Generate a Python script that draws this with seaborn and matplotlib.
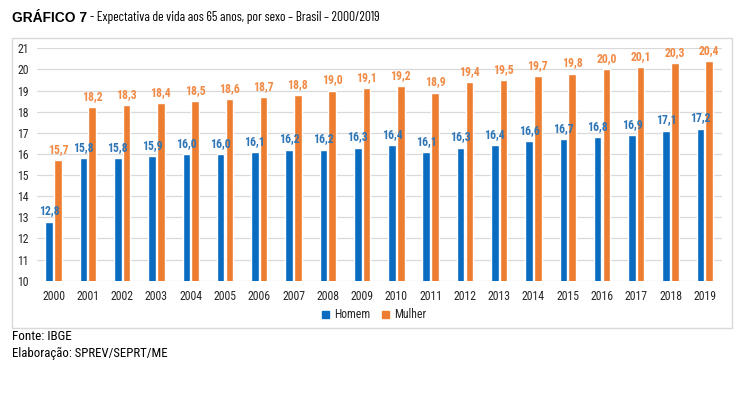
import matplotlib
matplotlib.use("Agg")
import matplotlib.pyplot as plt
import seaborn as sns
import pandas as pd
from matplotlib.patches import Rectangle

years = [str(y) for y in range(2000, 2020)]
homem = [12.8, 15.8, 15.8, 15.9, 16.0, 16.0, 16.1, 16.2, 16.2, 16.3,
         16.4, 16.1, 16.3, 16.4, 16.6, 16.7, 16.8, 16.9, 17.1, 17.2]
mulher = [15.7, 18.2, 18.3, 18.4, 18.5, 18.6, 18.7, 18.8, 19.0, 19.1,
          19.2, 18.9, 19.4, 19.5, 19.7, 19.8, 20.0, 20.1, 20.3, 20.4]
series = ["Homem", "Mulher"]
yticks = list(range(10, 22))

FAM = ["Roboto Condensed", "Liberation Sans", "DejaVu Sans"]
sns.set_theme(style="white")
plt.rcParams["font.family"] = FAM

df = pd.DataFrame({
    "Ano": years * 2,
    "Valor": homem + mulher,
    "Sexo": [series[0]] * len(years) + [series[1]] * len(years),
})

colors = {"Homem": "#0A6CC0", "Mulher": "#ED7D31"}
label_colors = {"Homem": "#2E75B6", "Mulher": "#F08A45"}

fig = plt.figure(figsize=(7.43, 3.95), dpi=100)
ax = fig.add_axes([36.5 / 743, 1 - 280.7 / 395, (722 - 36.5) / 743, (280.7 - 48.3) / 395])

sns.barplot(data=df, x="Ano", y="Valor", hue="Sexo", palette=colors,
            width=0.51, gap=0.13, ax=ax, saturation=1, legend=False)

ax.set_ylim(10, 21)
ax.set_yticks(yticks)
ax.set_yticklabels([str(t) for t in yticks], fontsize=8.5, color="#262626")
ax.set_xlim(-0.5, len(years) - 0.5)
ax.set_xlabel("")
ax.set_ylabel("")
ax.tick_params(axis="x", labelsize=8.5, colors="#262626", length=0, pad=7)
ax.tick_params(axis="y", length=0, pad=5.5)
ax.grid(axis="y", color="#D9D9D9", linewidth=0.9)
ax.set_axisbelow(True)
for s in ax.spines.values():
    s.set_visible(False)

for cont, name, vals in zip(ax.containers, series, [homem, mulher]):
    ax.bar_label(cont, labels=[f"{v:.1f}".replace(".", ",") for v in vals],
                 padding=3, fontsize=8.5, fontweight="bold", color=label_colors[name])

handles = [Rectangle((0, 0), 1, 1, color=colors[s]) for s in series]
fig.legend(handles, series, loc="center", bbox_to_anchor=(374 / 743, 1 - 315 / 395),
           ncol=2, frameon=False, fontsize=8.5, handlelength=0.6, handleheight=0.6,
           handletextpad=0.4, columnspacing=1.0)

fig.patches.append(Rectangle((11.7 / 743, 1 - 328.3 / 395), (732 - 11.7) / 743,
                             (328.3 - 37.7) / 395, transform=fig.transFigure,
                             fill=False, edgecolor="#D9D9D9", linewidth=1))


def fit_text(x_px, y_px, s, width_px, fs, **kw):
    t = fig.text(x_px / 743, 1 - y_px / 395, s, fontsize=fs, ha="left", va="center", **kw)
    fig.canvas.draw()
    w = t.get_window_extent().width
    t.set_fontsize(fs * width_px / w)
    fig.canvas.draw()
    return t


t1 = fit_text(12, 18, "GRÁFICO 7", 75, 10, fontweight="bold", color="black",
              family=["Liberation Sans", "DejaVu Sans"])
x1 = t1.get_window_extent().x1
fit_text(x1 + 3, 18, "- Expectativa de vida aos 65 anos, por sexo – Brasil – 2000/2019",
         380 - (x1 + 3), 10, color="black",
         family=["Barlow Condensed", "Roboto Condensed", "Liberation Sans", "DejaVu Sans"])

fit_text(12, 337, "Fonte: IBGE", 60, 9, color="black")
fit_text(12, 353, "Elaboração: SPREV/SEPRT/ME", 156, 9, color="black")

fig.savefig("out.png", dpi=100)
